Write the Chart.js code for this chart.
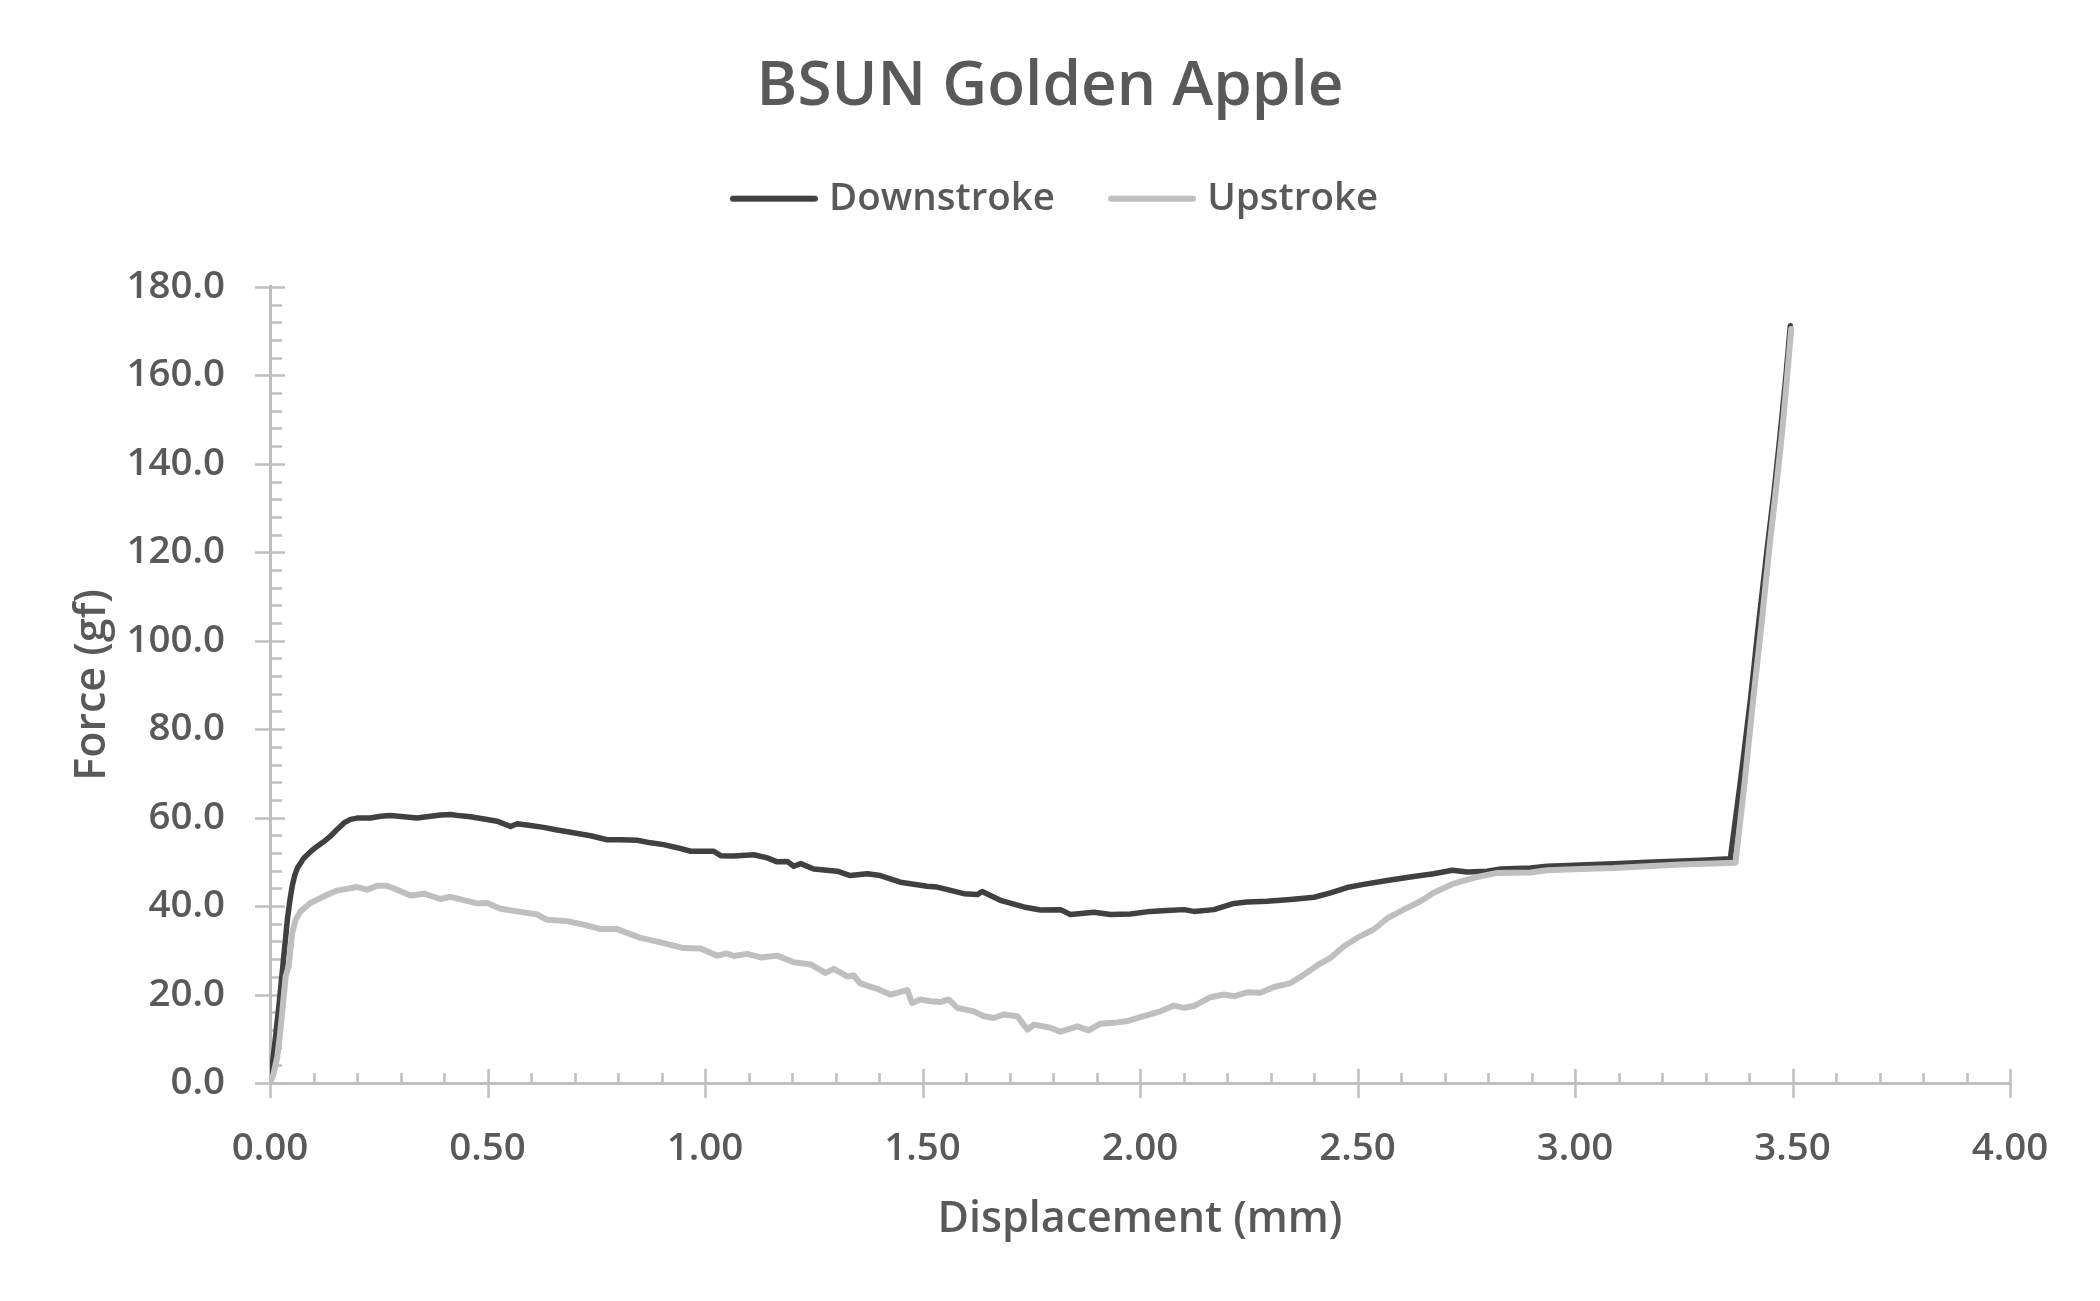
<!DOCTYPE html>
<html>
<head>
<meta charset="utf-8">
<title>BSUN Golden Apple</title>
<script src="https://cdn.jsdelivr.net/npm/chart.js@4.4.1/dist/chart.umd.min.js"></script>
<style>
  html, body { margin: 0; padding: 0; background: #fff; }
  #wrap { width: 2100px; height: 1301px; }
</style>
</head>
<body>
<div id="wrap"><canvas id="forceChart" width="2100" height="1301"></canvas></div>
<script>
// Dados (deslocamento em mm, força em gf)
const downX = [0.000, 0.010, 0.020, 0.028, 0.034, 0.040, 0.046, 0.051, 0.057, 0.063, 0.078, 0.093, 0.108, 0.124, 0.139, 0.155, 0.170, 0.185, 0.200, 0.231, 0.254, 0.277, 0.308, 0.338, 0.369, 0.392, 0.415, 0.438, 0.461, 0.492, 0.522, 0.553, 0.568, 0.599, 0.629, 0.660, 0.691, 0.737, 0.775, 0.806, 0.844, 0.875, 0.905, 0.936, 0.967, 0.990, 1.020, 1.036, 1.066, 1.112, 1.143, 1.166, 1.189, 1.204, 1.220, 1.250, 1.304, 1.334, 1.373, 1.403, 1.449, 1.511, 1.534, 1.595, 1.626, 1.637, 1.679, 1.733, 1.771, 1.817, 1.840, 1.894, 1.932, 1.978, 2.024, 2.062, 2.101, 2.124, 2.170, 2.216, 2.246, 2.292, 2.346, 2.400, 2.438, 2.476, 2.514, 2.568, 2.629, 2.675, 2.718, 2.752, 2.798, 2.829, 2.898, 2.936, 3.013, 3.089, 3.166, 3.243, 3.300, 3.357, 3.380, 3.403, 3.420, 3.442, 3.458, 3.472, 3.485, 3.495];
const downY = [0.0, 8.0, 17.0, 24.9, 31.0, 37.0, 41.5, 44.5, 47.0, 48.6, 50.9, 52.3, 53.5, 54.6, 55.8, 57.4, 58.8, 59.6, 59.9, 59.9, 60.3, 60.5, 60.2, 59.9, 60.3, 60.6, 60.7, 60.4, 60.2, 59.7, 59.2, 58.0, 58.6, 58.2, 57.8, 57.2, 56.7, 55.9, 55.0, 55.0, 54.9, 54.3, 53.9, 53.2, 52.4, 52.4, 52.4, 51.4, 51.3, 51.6, 50.9, 50.0, 50.1, 49.0, 49.6, 48.4, 47.9, 46.9, 47.3, 46.9, 45.4, 44.5, 44.3, 42.8, 42.6, 43.3, 41.3, 39.8, 39.1, 39.2, 38.1, 38.6, 38.1, 38.2, 38.8, 39.0, 39.2, 38.8, 39.2, 40.6, 40.9, 41.1, 41.5, 42.0, 43.0, 44.2, 44.9, 45.8, 46.7, 47.3, 48.1, 47.7, 47.9, 48.4, 48.6, 49.0, 49.3, 49.6, 49.9, 50.2, 50.4, 50.7, 68.0, 86.4, 102.0, 121.0, 134.0, 147.0, 160.0, 171.2];

const upX = [0.000, 0.008, 0.017, 0.023, 0.028, 0.036, 0.043, 0.051, 0.059, 0.070, 0.093, 0.124, 0.154, 0.200, 0.223, 0.246, 0.269, 0.292, 0.323, 0.354, 0.392, 0.415, 0.476, 0.499, 0.530, 0.568, 0.614, 0.637, 0.683, 0.721, 0.760, 0.798, 0.852, 0.898, 0.951, 0.990, 1.028, 1.051, 1.066, 1.097, 1.128, 1.166, 1.204, 1.243, 1.277, 1.296, 1.327, 1.342, 1.357, 1.396, 1.426, 1.465, 1.476, 1.495, 1.518, 1.541, 1.560, 1.580, 1.618, 1.641, 1.664, 1.687, 1.718, 1.741, 1.756, 1.794, 1.817, 1.856, 1.882, 1.909, 1.940, 1.971, 2.001, 2.047, 2.078, 2.101, 2.124, 2.162, 2.193, 2.216, 2.246, 2.277, 2.308, 2.346, 2.377, 2.414, 2.438, 2.469, 2.499, 2.537, 2.568, 2.606, 2.645, 2.675, 2.721, 2.767, 2.821, 2.898, 2.936, 3.013, 3.089, 3.166, 3.243, 3.300, 3.369, 3.390, 3.410, 3.428, 3.448, 3.463, 3.477, 3.488, 3.497];
const upY = [0.0, 2.0, 6.0, 11.0, 15.9, 24.1, 26.4, 33.9, 36.9, 38.8, 40.7, 42.2, 43.5, 44.3, 43.7, 44.6, 44.6, 43.7, 42.4, 42.8, 41.6, 42.1, 40.6, 40.7, 39.4, 38.8, 38.1, 36.9, 36.6, 35.8, 34.8, 34.8, 32.8, 31.8, 30.5, 30.4, 28.8, 29.3, 28.7, 29.2, 28.4, 28.8, 27.3, 26.8, 24.9, 25.8, 24.1, 24.3, 22.5, 21.3, 20.0, 21.0, 18.1, 18.9, 18.5, 18.3, 18.9, 17.0, 16.2, 15.1, 14.7, 15.5, 15.1, 12.1, 13.2, 12.5, 11.6, 12.8, 11.9, 13.4, 13.6, 14.0, 14.9, 16.2, 17.5, 17.0, 17.4, 19.4, 20.0, 19.6, 20.5, 20.4, 21.7, 22.6, 24.5, 27.0, 28.3, 30.9, 32.8, 34.7, 37.2, 39.2, 41.1, 43.0, 45.1, 46.4, 47.5, 47.6, 48.1, 48.4, 48.6, 49.0, 49.4, 49.6, 49.8, 68.0, 87.0, 103.0, 122.0, 135.0, 148.0, 160.0, 170.5];

const xTicks = [0, 0.5, 1, 1.5, 2, 2.5, 3, 3.5, 4];
const yTicks = [0, 20, 40, 60, 80, 100, 120, 140, 160, 180];

const textColor = '#595959';
const axisColor = '#bfbfbf';
const fontFamily = '"Open Sans", "Noto Sans", sans-serif';
const legendLineLen = 88;

function toPoints(xs, ys) {
    return xs.map((x, i) => ({ x: x, y: ys[i] }));
}

// Amostra de linha da legenda (deslocada um pouco para perto do texto)
function legendLine(color) {
    const c = document.createElement('canvas');
    c.width = legendLineLen + 16;
    c.height = 12;
    const g = c.getContext('2d');
    g.strokeStyle = color;
    g.lineWidth = 6;
    g.lineCap = 'round';
    g.beginPath();
    g.moveTo(16 + 3, 6);
    g.lineTo(c.width - 3, 6);
    g.stroke();
    return c;
}

// Marcas de escala (principais cruzando o eixo, secundárias para dentro)
const tickMarks = {
    id: 'tickMarks',
    afterInit(chart) {
        // espaço extra abaixo da legenda
        const fitOrig = chart.legend.fit;
        chart.legend.fit = function() {
            fitOrig.call(this);
            this.height += 59;
        };
    },
    afterLayout(chart) {
        // título e legenda centrados na largura toda
        [chart.titleBlock, chart.legend].forEach(b => {
            if (!b) return;
            b.left = 0;
            b.right = chart.width;
            b.width = chart.width;
        });
    },
    beforeDatasetsDraw(chart) {
        const ctx = chart.ctx;
        const xs = chart.scales.x;
        const ys = chart.scales.y;
        const x0 = xs.getPixelForValue(0);
        const y0 = ys.getPixelForValue(0);
        ctx.save();
        ctx.strokeStyle = axisColor;
        ctx.lineWidth = 2.5;
        ctx.beginPath();
        for (let i = 0; i <= 45; i++) {
            const v = i * 4;
            const py = Math.round(ys.getPixelForValue(v)) + 0.5;
            if (v % 20 === 0) {
                ctx.moveTo(x0 - 15, py); ctx.lineTo(x0 + 15, py);
            } else {
                ctx.moveTo(x0, py); ctx.lineTo(x0 + 12, py);
            }
        }
        for (let i = 0; i <= 40; i++) {
            const px = Math.round(xs.getPixelForValue(i / 10)) + 0.5;
            if (i % 5 === 0) {
                ctx.moveTo(px, y0 - 14); ctx.lineTo(px, y0 + 15);
            } else {
                ctx.moveTo(px, y0 - 10); ctx.lineTo(px, y0);
            }
        }
        ctx.stroke();
        ctx.restore();
    }
};

window.onload = function() {
    const ctx = document.getElementById('forceChart').getContext('2d');
    new Chart(ctx, {
        type: 'line',
        data: {
            datasets: [{
                label: 'Downstroke',
                data: toPoints(downX, downY),
                borderColor: '#404040',
                backgroundColor: '#404040',
                borderWidth: 5.5,
                borderCapStyle: 'round',
                borderJoinStyle: 'round',
                pointRadius: 0,
                pointStyle: legendLine('#404040'),
                fill: false,
                tension: 0,
                order: 1
            }, {
                label: 'Upstroke',
                data: toPoints(upX, upY),
                borderColor: '#bfbfbf',
                backgroundColor: '#bfbfbf',
                borderWidth: 6,
                borderCapStyle: 'round',
                borderJoinStyle: 'round',
                pointRadius: 0,
                pointStyle: legendLine('#bfbfbf'),
                fill: false,
                tension: 0,
                order: 0 // desenhada por cima
            }]
        },
        options: {
            responsive: false,
            animation: false,
            events: [],
            layout: {
                padding: { top: 39, right: 90, bottom: 0, left: 0 }
            },
            plugins: {
                title: {
                    display: true,
                    text: 'BSUN Golden Apple',
                    color: textColor,
                    font: { family: fontFamily, size: 62, weight: '600' },
                    padding: { top: 11, bottom: 10 }
                },
                legend: {
                    display: true,
                    position: 'top',
                    labels: {
                        usePointStyle: true,
                        pointStyleWidth: legendLineLen,
                        color: textColor,
                        font: { family: fontFamily, size: 38.5, weight: '600' },
                        padding: 45,
                        sort: (a, b) => a.datasetIndex - b.datasetIndex
                    }
                },
                tooltip: { enabled: false }
            },
            scales: {
                x: {
                    type: 'linear',
                    min: 0,
                    max: 4,
                    afterFit: (scale) => { scale.height = 218; },
                    afterBuildTicks: (scale) => { scale.ticks = xTicks.map(v => ({ value: v })); },
                    grid: { display: false },
                    border: { display: true, color: axisColor, width: 3 },
                    ticks: {
                        color: textColor,
                        font: { family: fontFamily, size: 38.5, weight: '600' },
                        padding: 35,
                        maxRotation: 0,
                        autoSkip: false,
                        callback: (v) => Number(v).toFixed(2)
                    },
                    title: {
                        display: true,
                        text: 'Displacement (mm)',
                        color: textColor,
                        font: { family: fontFamily, size: 43, weight: '600' },
                        padding: { bottom: 55 }
                    }
                },
                y: {
                    min: 0,
                    max: 180,
                    afterFit: (scale) => { scale.width = 270; },
                    afterBuildTicks: (scale) => { scale.ticks = yTicks.map(v => ({ value: v })); },
                    grid: { display: false },
                    border: { display: true, color: axisColor, width: 3 },
                    ticks: {
                        color: textColor,
                        font: { family: fontFamily, size: 38.5, weight: '600' },
                        padding: 37,
                        autoSkip: false,
                        callback: (v) => Number(v).toFixed(1)
                    },
                    title: {
                        display: true,
                        text: 'Force (gf)',
                        color: textColor,
                        font: { family: fontFamily, size: 43, weight: '600' },
                        padding: { top: 67 }
                    }
                }
            }
        },
        plugins: [tickMarks]
    });
};
</script>
</body>
</html>
